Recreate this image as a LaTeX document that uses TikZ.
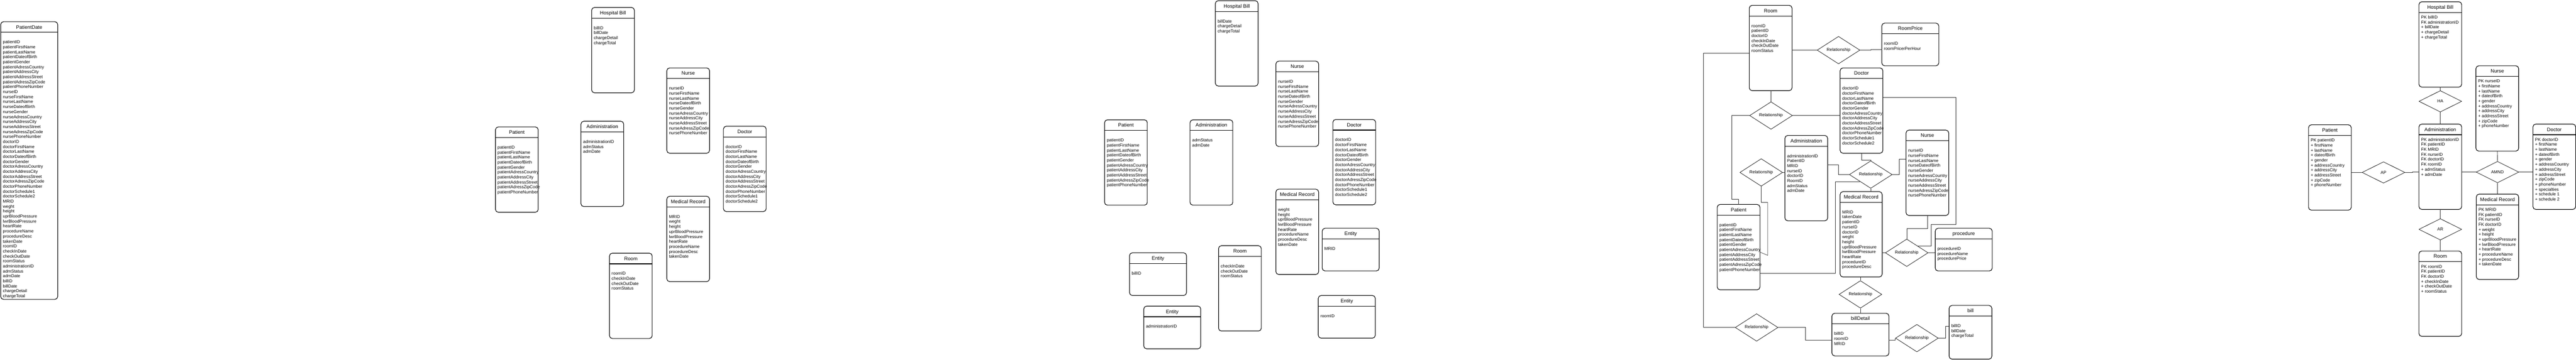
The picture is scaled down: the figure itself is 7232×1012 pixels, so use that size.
\documentclass[tikz,border=0pt]{standalone}
\usepackage{fontspec}
\setmainfont{Liberation Sans}
\usetikzlibrary{shapes.geometric}

% entity box: name, x, y, width, height, title, attributes
\newcommand{\entbox}[7]{%
  \node[ent, minimum width=#4pt, minimum height=#5pt] (#1) at (#2,#3) {};
  \draw[sep] ([yshift=-30pt]#1.north west) -- ([yshift=-30pt]#1.north east);
  \node[enttitle] at ([yshift=-20pt]#1.north) {#6};
  \node[attr] at ([xshift=6pt,yshift=-37.7pt]#1.north west) {\strut #7};
}
\newcommand{\patattrs}{patientID\\patientFirstName\\patientLastName\\patientDateofBirth\\patientGender\\patientAdressCountry\\patientAddressCity\\patientAddressStreet\\patientAdressZipCode\\patientPhoneNumber}
\newcommand{\nurattrs}{nurseID\\nurseFirstName\\nurseLastName\\nurseDateofBirth\\nurseGender\\nurseAdressCountry\\nurseAddressCity\\nurseAddressStreet\\nurseAdressZipCode\\nursePhoneNumber}
\newcommand{\docattrs}{doctorID\\doctorFirstName\\doctorLastName\\doctorDateofBirth\\doctorGender\\doctorAdressCountry\\doctorAddressCity\\doctorAddressStreet\\doctorAdressZipCode\\doctorPhoneNumber\\doctorSchedule1\\doctorSchedule2}

\begin{document}
\begin{tikzpicture}[
    x=1pt, y=-1pt,
    ent/.style={draw, line width=1.6pt, rounded corners=8pt, anchor=north west, inner sep=0pt, outer sep=0pt},
    sep/.style={line width=1.6pt},
    enttitle/.style={anchor=base, inner sep=0pt, font=\fontsize{14}{17}\selectfont},
    attr/.style={anchor=north west, align=left, inner sep=0pt, font=\fontsize{12}{14}\selectfont},
    rel/.style={diamond, draw, line width=1pt, minimum width=120pt, minimum height=60pt, inner sep=0pt, font=\fontsize{12}{14}\selectfont},
    conn/.style={line width=1pt, draw=black!80}
  ]
    \useasboundingbox (0,0) rectangle (7232,1012);

    % Single table
    \entbox{pdate}{2}{61}{160}{781}{PatientDate}{\\\patattrs\\\nurattrs\\\docattrs\\MRID\\weght\\height\\uprBloodPressure\\lwrBloodPressure\\heartRate\\procedureName\\procedureDesc\\takenDate\\roomID\\checkInDate\\checkOutDate\\roomStatus\\administrationID\\admStatus\\admDate\\billID\\billDate\\chargeDetail\\chargeTotal}

    % First split
    \entbox{apat}{1391}{357}{120}{240}{Patient}{\\\patattrs}
    \entbox{aadm}{1631}{341}{120}{240}{Administration}{\\administrationID\\admStatus\\admDate}
    \entbox{abill}{1661}{21}{120}{240}{Hospital Bill}{\\billID\\billDate\\chargeDetail\\chargeTotal}
    \entbox{anur}{1872}{191}{120}{240}{Nurse}{\\\nurattrs}
    \entbox{adoc}{2031}{355}{120}{240}{Doctor}{\\\docattrs}
    \entbox{amr}{1872}{552}{120}{240}{Medical Record}{\\MRID\\weght\\height\\uprBloodPressure\\lwrBloodPressure\\heartRate\\procedureName\\procedureDesc\\takenDate}
    \entbox{aroom}{1711}{712}{120}{240}{Room}{\\roomID\\checkInDate\\checkOutDate\\roomStatus}

    % Second split with key entities
    \entbox{bbill}{3412}{2}{120}{240}{Hospital Bill}{\\billDate\\chargeDetail\\chargeTotal}
    \entbox{bnur}{3582}{172}{120}{240}{Nurse}{\\\nurattrs}
    \entbox{bpat}{3101}{337}{120}{240}{Patient}{\\\patattrs}
    \entbox{badm}{3341}{337}{120}{240}{Administration}{\\admStatus\\admDate}
    \entbox{bdoc}{3742}{336}{120}{240}{Doctor}{\\\docattrs}
    \entbox{bmr}{3582}{532}{120}{240}{Medical Record}{\\weght\\height\\uprBloodPressure\\lwrBloodPressure\\heartRate\\procedureName\\procedureDesc\\takenDate}
    \entbox{bemr}{3712}{642}{160}{120}{Entity}{\\MRID}
    \entbox{bebill}{3171}{711}{160}{120}{Entity}{\\billID}
    \entbox{beadm}{3211}{861}{160}{120}{Entity}{\\administrationID}
    \entbox{broom}{3421}{691}{120}{240}{Room}{\\checkInDate\\checkOutDate\\roomStatus}
    \entbox{beroom}{3701}{831}{160}{120}{Entity}{\\roomID}

    % ER diagram
    \entbox{erroom}{4911}{15}{120}{240}{Room}{\\roomID\\patientID\\doctorID\\checkInDate\\checkOutDate\\roomStatus}
    \entbox{erprice}{5283}{65}{160}{120}{RoomPrice}{\\roomID\\roomPricerPerHour}
    \entbox{erdoc}{5166}{191}{120}{240}{Doctor}{\\\docattrs}
    \entbox{eradm}{5011}{381}{120}{240}{Administration}{\\administrationID\\PatientID\\MRID\\nurseID\\doctorID\\RoomID\\admStatus\\admDate}
    \entbox{erpat}{4821}{575}{120}{240}{Patient}{\\\patattrs}
    \entbox{ernur}{5351}{366}{120}{240}{Nurse}{\\\nurattrs}
    \entbox{ermr}{5166}{539}{118}{240}{Medical Record}{\\MRID\\takenDate\\patientID\\nurseID\\doctorID\\weght\\height\\uprBloodPressure\\lwrBloodPressure\\heartRate\\procedureID\\procedureDesc}
    \entbox{erproc}{5433}{642}{160}{120}{procedure}{\\procedureID\\procedureName\\procedurePrice}
    \entbox{erbilld}{5143}{881}{160}{120}{billDetail}{\\billID\\roomID\\MRID}
    \entbox{erbill}{5472}{859}{120}{151}{bill}{\\billID\\billDate\\chargeTotal}

    \node[rel] (r1) at (5161.5,141) {Relationship};
    \node[rel] (r2) at (4972,325) {Relationship};
    \node[rel] (r3) at (4944.5,485) {Relationship};
    \node[rel] (r4) at (5252,491) {Relationship};
    \node[rel] (r5) at (5353,711) {Relationship};
    \node[rel] (r6) at (5223,828) {Relationship};
    \node[rel] (r7) at (4931.5,921) {Relationship};
    \node[rel] (r8) at (5381.5,951) {Relationship};

    \draw[conn] (r1.west -| erroom.east) -- (r1.west);
    \draw[conn] (r1.east) -- ++(31,0) |- ([yshift=-14pt]erprice.west);
    \draw[conn] (r2.north |- erroom.south) -- (r2.north);
    \draw[conn] (r2.west) -- ++(-50,0) -- ++(0,235) -| (erpat.north);
    \draw[conn] (r2.east) -- (r2.east -| erdoc.west);
    \draw[conn] (r3.east) -- (r3.east -| eradm.west);
    \draw[conn] (r3.south) -- ++(0,45) -- ++(18,0) -- ++(0,149) -- ([yshift=-14pt]erpat.east);
    \draw[conn] ([yshift=37pt]eradm.east) -- ++(30,0) |- (r4.west);
    \draw[conn] (erdoc.south) -- ++(0,20) -| (r4.north);
    \draw[conn] (r4.east) -- ++(19,0) |- ([yshift=38.5pt]ernur.west);
    \draw[conn] (r4.south) -- (r4.south |- ermr.north);
    \draw[conn] ([yshift=-73pt]erpat.east) -- ++(211,0) |- (r4.south west);
    \draw[conn] (r5.west -| ermr.east) -- (r5.west);
    \draw[conn] (ernur.south) -- ++(0,36) -| (r5.north);
    \draw[conn] (r5.east) -- (r5.east -| erproc.west);
    \draw[conn] ([yshift=37pt]erdoc.east) -- ++(205,0) -- ++(0,357) -- ++(-70,0) |- (r5.north east);
    \draw[conn] (r6.north |- ermr.south) -- (r6.north);
    \draw[conn] (r6.south) -- (r6.south |- erbilld.north);
    \draw[conn] ([yshift=-15pt]erroom.west) -- ++(-129,0) |- (r7.west);
    \draw[conn] (r7.east) -- ++(76,0) |- ([yshift=-15pt]erbilld.west);
    \draw[conn] ([yshift=-15pt]erbilld.east) -- ++(18,0) -- (r8.west);
    \draw[conn] (r8.east) -- ++(20,0) |- ([yshift=16.5pt]erbill.west);

    % Final tables with keys
    \entbox{dbill}{6791}{5}{120}{240}{Hospital Bill}{PK billID\\FK administrationID\\+ billDate\\+ chargeDetail\\+ chargeTotal}
    \entbox{dpat}{6481}{351}{120}{240}{Patient}{PK patientID\\+ firstName\\+ lastName\\+ dateofBirth\\+ gender\\+ addressCountry\\+ addressCity\\+ addressStreet\\+ zipCode\\+ phoneNumber}
    \entbox{dadm}{6791}{349}{120}{240}{Administration}{PK administrationID\\FK patientID\\FK MRID\\FK nurseID\\FK doctorID\\FK roomID\\+ admStatus\\+ admDate}
    \entbox{droom}{6791}{706}{120}{240}{Room}{PK roomID\\FK patientID\\FK doctorID\\+ checkInDate\\+ checkOutDate\\+ roomStatus}
    \entbox{dnur}{6951}{185}{120}{240}{Nurse}{PK nurseID\\+ firstName\\+ lastName\\+ dateofBirth\\+ gender\\+ addressCountry\\+ addressCity\\+ addressStreet\\+ zipCode\\+ phoneNumber}
    \entbox{ddoc}{7111}{349}{120}{240}{Doctor}{PK doctorID\\+ firstName\\+ lastName\\+ dateofBirth\\+ gender\\+ addressCountry\\+ addressCity\\+ addressStreet\\+ zipCode\\+ phoneNumber\\+ specialties\\+ schedule 1\\+ schedule 2}
    \entbox{dmr}{6952}{546}{119}{240}{Medical Record}{PK MRID\\FK patientID\\FK nurseID\\FK doctorID\\+ weight\\+ height\\+ uprBloodPressure\\+ lwrBloodPressure\\+ heartRate\\+ procedureName\\+ procedureDesc\\+ takenDate}

    \node[rel] (ha) at (6851,285) {HA};
    \node[rel] (ap) at (6691.5,485) {AP};
    \node[rel] (ar) at (6851,645) {AR};
    \node[rel] (amnd) at (7011.5,484) {AMND};

    \draw[conn] (dbill.south) -- (ha.north);
    \draw[conn] (ha.south) -- (dadm.north);
    \draw[conn] (ap.west -| dpat.east) -- (ap.west);
    \draw[conn] (ap.east) -- ++(20,0) |- ([yshift=-14pt]dadm.west);
    \draw[conn] (dadm.south) -- (ar.north);
    \draw[conn] (ar.south) -- (droom.north);
    \draw[conn] (amnd.west -| dadm.east) -- (amnd.west);
    \draw[conn] (dnur.south) -- (amnd.north);
    \draw[conn] (amnd.south) -- (dmr.north);
    \draw[conn] (amnd.east) -- (amnd.east -| ddoc.west);
  \end{tikzpicture}
\end{document}
